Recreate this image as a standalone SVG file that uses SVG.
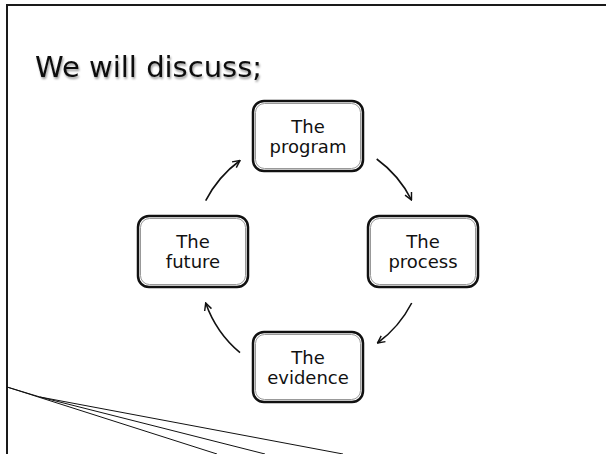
<svg xmlns="http://www.w3.org/2000/svg" width="606" height="454" viewBox="0 0 606 454">
<style>
.box{fill:#fff;stroke:#111;stroke-width:2.5}
.inner{fill:none;stroke:#999;stroke-width:1}
.lbl{font-family:"DejaVu Sans",sans-serif;font-size:18px;fill:#111;text-anchor:middle}
.arc{fill:none;stroke:#111;stroke-width:1.6;marker-end:url(#ah)}
.deco{fill:none;stroke:#111;stroke-width:1}
</style>
<defs>
<marker id="ah" viewBox="0 0 10 10" refX="9" refY="5" markerWidth="9" markerHeight="9" markerUnits="userSpaceOnUse" orient="auto">
<path d="M1,1 L9,5 L1,9" fill="none" stroke="#111" stroke-width="1.6"/>
</marker>
<filter id="sh" x="-5%" y="-20%" width="110%" height="150%">
<feGaussianBlur in="SourceAlpha" stdDeviation="1.2"/>
<feOffset dx="1" dy="2" result="b"/>
<feComponentTransfer><feFuncA type="linear" slope="0.4"/></feComponentTransfer>
<feMerge><feMergeNode/><feMergeNode in="SourceGraphic"/></feMerge>
</filter>
</defs>
<rect width="606" height="454" fill="#fff"/>
<path d="M7,454 L7,5 L606,5" fill="none" stroke="#1a1a1a" stroke-width="2"/>
<g id="decor">
<path class="deco" d="M7,387 L217,454"/>
<path class="deco" d="M7,387 L40,397 L265,454"/>
<path class="deco" d="M40,397 L343,454"/>
</g>
<text x="35" y="77" font-family="DejaVu Sans, sans-serif" font-size="29" fill="#111" filter="url(#sh)">We will discuss;</text>
<g id="connectors">
<path class="arc" d="M205.7,200.7 A114,114 0 0 1 240,160.5"/>
<path class="arc" d="M376.7,159 A114,114 0 0 1 411.5,200"/>
<path class="arc" d="M411.7,303 A114,114 0 0 1 377.5,343"/>
<path class="arc" d="M240,352.7 A114,114 0 0 1 205.7,303"/>
</g>
<g id="program">
<rect class="box" x="253" y="101" width="110" height="70" rx="11"/>
<rect class="inner" x="255.5" y="103.5" width="105" height="65" rx="9"/>
<text class="lbl" x="308" y="133">The</text>
<text class="lbl" x="308" y="153">program</text>
</g>
<g id="process">
<rect class="box" x="368" y="216" width="110" height="71" rx="11"/>
<rect class="inner" x="370.5" y="218.5" width="105" height="66" rx="9"/>
<text class="lbl" x="423" y="248">The</text>
<text class="lbl" x="423" y="268">process</text>
</g>
<g id="future">
<rect class="box" x="138" y="216" width="110" height="71" rx="11"/>
<rect class="inner" x="140.5" y="218.5" width="105" height="66" rx="9"/>
<text class="lbl" x="193" y="248">The</text>
<text class="lbl" x="193" y="268">future</text>
</g>
<g id="evidence">
<rect class="box" x="253" y="332" width="110" height="70" rx="11"/>
<rect class="inner" x="255.5" y="334.5" width="105" height="65" rx="9"/>
<text class="lbl" x="308" y="364">The</text>
<text class="lbl" x="308" y="384">evidence</text>
</g>
</svg>
